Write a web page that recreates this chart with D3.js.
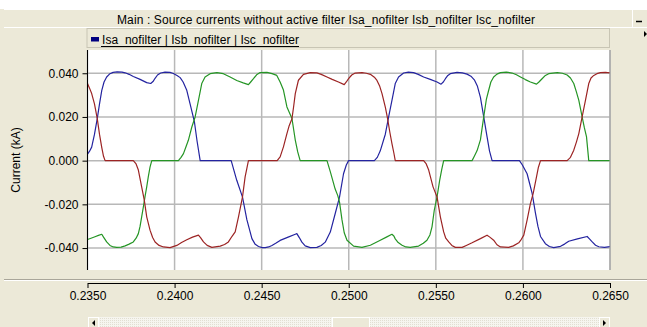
<!DOCTYPE html>
<html>
<head>
<meta charset="utf-8">
<script src="https://cdn.jsdelivr.net/npm/d3@7/dist/d3.min.js"></script>
<style>
  body { margin: 0; background: #fff; overflow: hidden; }
  text { font-family: "Liberation Sans", Arial, sans-serif; font-size: 12px; fill: #000; }
</style>
</head>
<body>
<div id="chart"></div>
<script>
// values: [time (s), current (kA)]
const isa = [
  [0.23500, 0.0030], [0.23511, 0.0042], [0.23524, 0.0062], [0.23540, 0.0120], [0.23556, 0.0192],
  [0.23569, 0.0260], [0.23582, 0.0322], [0.23595, 0.0360], [0.23610, 0.0383], [0.23629, 0.0398],
  [0.23647, 0.0404], [0.23670, 0.0406], [0.23698, 0.0405], [0.23716, 0.0402], [0.23739, 0.0395],
  [0.23763, 0.0385], [0.23802, 0.0372], [0.23840, 0.0357], [0.23863, 0.0353], [0.23876, 0.0362],
  [0.23888, 0.0377], [0.23902, 0.0392], [0.23920, 0.0401], [0.23945, 0.0405], [0.23974, 0.0404],
  [0.23993, 0.0399], [0.24014, 0.0390], [0.24032, 0.0380], [0.24049, 0.0360], [0.24070, 0.0322],
  [0.24089, 0.0260], [0.24114, 0.0177], [0.24129, 0.0090], [0.24147, 0.0000], [0.24325, 0.0000],
  [0.24357, -0.0090], [0.24390, -0.0167], [0.24415, -0.0270], [0.24444, -0.0357], [0.24463, -0.0383],
  [0.24482, -0.0393], [0.24503, -0.0398], [0.24520, -0.0398], [0.24540, -0.0395], [0.24559, -0.0388],
  [0.24583, -0.0377], [0.24606, -0.0365], [0.24652, -0.0350], [0.24693, -0.0337], [0.24702, -0.0334],
  [0.24716, -0.0352], [0.24731, -0.0373], [0.24750, -0.0390], [0.24779, -0.0398], [0.24817, -0.0397],
  [0.24842, -0.0388], [0.24865, -0.0373], [0.24894, -0.0327], [0.24922, -0.0243], [0.24947, -0.0167],
  [0.24970, -0.0060], [0.24986, -0.0020], [0.24999, 0.0000], [0.25147, 0.0000], [0.25164, 0.0015],
  [0.25181, 0.0045], [0.25210, 0.0121], [0.25229, 0.0200], [0.25248, 0.0276], [0.25267, 0.0353],
  [0.25286, 0.0383], [0.25315, 0.0401], [0.25342, 0.0405], [0.25372, 0.0403], [0.25399, 0.0395],
  [0.25430, 0.0383], [0.25468, 0.0372], [0.25507, 0.0360], [0.25530, 0.0350], [0.25543, 0.0360],
  [0.25555, 0.0375], [0.25569, 0.0390], [0.25583, 0.0398], [0.25622, 0.0404], [0.25652, 0.0402],
  [0.25679, 0.0396], [0.25704, 0.0385], [0.25721, 0.0370], [0.25739, 0.0340], [0.25756, 0.0290],
  [0.25775, 0.0200], [0.25794, 0.0110], [0.25808, 0.0045], [0.25823, 0.0000], [0.25980, 0.0000],
  [0.25997, -0.0020], [0.26024, -0.0060], [0.26037, -0.0100], [0.26053, -0.0150], [0.26072, -0.0240],
  [0.26086, -0.0300], [0.26101, -0.0347], [0.26129, -0.0380], [0.26152, -0.0393], [0.26177, -0.0398],
  [0.26216, -0.0392], [0.26239, -0.0382], [0.26263, -0.0369], [0.26313, -0.0358], [0.26369, -0.0347],
  [0.26382, -0.0358], [0.26398, -0.0372], [0.26417, -0.0387], [0.26436, -0.0394], [0.26468, -0.0397],
  [0.26500, -0.0393]
];

const isb = [
  [0.23500, -0.0361], [0.23520, -0.0355], [0.23543, -0.0348], [0.23563, -0.0342], [0.23582, -0.0337],
  [0.23592, -0.0350], [0.23610, -0.0372], [0.23629, -0.0388], [0.23648, -0.0395], [0.23668, -0.0397],
  [0.23693, -0.0396], [0.23716, -0.0390], [0.23739, -0.0382], [0.23763, -0.0372], [0.23779, -0.0355],
  [0.23792, -0.0334], [0.23802, -0.0300], [0.23811, -0.0257], [0.23821, -0.0210], [0.23830, -0.0166],
  [0.23840, -0.0120], [0.23849, -0.0074], [0.23859, -0.0030], [0.23869, 0.0000], [0.24022, 0.0000],
  [0.24037, 0.0015], [0.24051, 0.0032], [0.24066, 0.0065], [0.24079, 0.0093], [0.24099, 0.0154],
  [0.24118, 0.0200], [0.24137, 0.0276], [0.24156, 0.0353], [0.24175, 0.0383], [0.24204, 0.0398],
  [0.24243, 0.0403], [0.24280, 0.0398], [0.24319, 0.0383], [0.24357, 0.0367], [0.24394, 0.0356],
  [0.24424, 0.0348], [0.24437, 0.0360], [0.24453, 0.0375], [0.24471, 0.0393], [0.24491, 0.0403],
  [0.24530, 0.0404], [0.24560, 0.0398], [0.24587, 0.0390], [0.24606, 0.0360], [0.24625, 0.0323],
  [0.24645, 0.0246], [0.24674, 0.0193], [0.24693, 0.0094], [0.24707, 0.0040], [0.24721, 0.0000],
  [0.24875, 0.0000], [0.24894, -0.0050], [0.24908, -0.0090], [0.24922, -0.0130], [0.24937, -0.0160],
  [0.24947, -0.0190], [0.24961, -0.0270], [0.24974, -0.0330], [0.24990, -0.0364], [0.25028, -0.0391],
  [0.25076, -0.0397], [0.25124, -0.0387], [0.25181, -0.0364], [0.25216, -0.0350], [0.25248, -0.0337],
  [0.25259, -0.0345], [0.25267, -0.0358], [0.25284, -0.0375], [0.25306, -0.0387], [0.25328, -0.0395],
  [0.25353, -0.0397], [0.25401, -0.0391], [0.25428, -0.0378], [0.25449, -0.0364], [0.25466, -0.0340],
  [0.25478, -0.0303], [0.25491, -0.0227], [0.25507, -0.0166], [0.25522, -0.0090], [0.25534, -0.0040],
  [0.25545, 0.0000], [0.25708, 0.0000], [0.25721, 0.0020], [0.25737, 0.0046], [0.25756, 0.0095],
  [0.25775, 0.0200], [0.25790, 0.0280], [0.25803, 0.0321], [0.25816, 0.0360], [0.25832, 0.0383],
  [0.25851, 0.0396], [0.25871, 0.0403], [0.25905, 0.0405], [0.25938, 0.0401], [0.25963, 0.0393],
  [0.25986, 0.0383], [0.26014, 0.0371], [0.26043, 0.0360], [0.26078, 0.0350], [0.26092, 0.0360],
  [0.26110, 0.0375], [0.26129, 0.0390], [0.26148, 0.0398], [0.26197, 0.0403], [0.26227, 0.0400],
  [0.26254, 0.0392], [0.26273, 0.0378], [0.26292, 0.0353], [0.26307, 0.0315], [0.26321, 0.0276],
  [0.26340, 0.0200], [0.26353, 0.0150], [0.26365, 0.0110], [0.26378, 0.0000], [0.26500, 0.0000]
];

const isc = [
  [0.23500, 0.0353], [0.23511, 0.0333], [0.23524, 0.0307], [0.23540, 0.0260], [0.23556, 0.0192],
  [0.23569, 0.0120], [0.23582, 0.0060], [0.23592, 0.0020], [0.23601, 0.0000], [0.23763, 0.0000],
  [0.23779, -0.0015], [0.23792, -0.0043], [0.23811, -0.0120], [0.23826, -0.0181], [0.23840, -0.0257],
  [0.23859, -0.0318], [0.23874, -0.0352], [0.23888, -0.0372], [0.23911, -0.0388], [0.23936, -0.0395],
  [0.23974, -0.0398], [0.24013, -0.0388], [0.24040, -0.0375], [0.24070, -0.0362], [0.24103, -0.0350],
  [0.24137, -0.0341], [0.24149, -0.0352], [0.24166, -0.0372], [0.24187, -0.0388], [0.24214, -0.0397],
  [0.24262, -0.0391], [0.24287, -0.0384], [0.24309, -0.0372], [0.24331, -0.0345], [0.24348, -0.0326],
  [0.24367, -0.0257], [0.24390, -0.0166], [0.24405, -0.0074], [0.24415, -0.0035], [0.24424, 0.0000],
  [0.24589, 0.0000], [0.24606, 0.0017], [0.24625, 0.0063], [0.24645, 0.0124], [0.24658, 0.0160],
  [0.24674, 0.0192], [0.24684, 0.0250], [0.24693, 0.0307], [0.24711, 0.0368], [0.24740, 0.0395],
  [0.24779, 0.0403], [0.24817, 0.0402], [0.24842, 0.0395], [0.24875, 0.0383], [0.24905, 0.0372],
  [0.24941, 0.0360], [0.24974, 0.0348], [0.24986, 0.0360], [0.24999, 0.0375], [0.25017, 0.0392],
  [0.25037, 0.0401], [0.25076, 0.0403], [0.25101, 0.0400], [0.25124, 0.0395], [0.25147, 0.0382],
  [0.25162, 0.0367], [0.25178, 0.0340], [0.25191, 0.0307], [0.25210, 0.0245], [0.25223, 0.0192],
  [0.25236, 0.0130], [0.25248, 0.0078], [0.25259, 0.0035], [0.25267, 0.0000], [0.25430, 0.0000],
  [0.25445, -0.0015], [0.25459, -0.0043], [0.25484, -0.0120], [0.25507, -0.0166], [0.25526, -0.0257],
  [0.25545, -0.0326], [0.25557, -0.0355], [0.25574, -0.0372], [0.25592, -0.0388], [0.25612, -0.0397],
  [0.25651, -0.0397], [0.25675, -0.0388], [0.25708, -0.0376], [0.25756, -0.0357], [0.25794, -0.0341],
  [0.25810, -0.0350], [0.25832, -0.0364], [0.25851, -0.0385], [0.25871, -0.0395], [0.25918, -0.0397],
  [0.25945, -0.0390], [0.25976, -0.0376], [0.25991, -0.0360], [0.26005, -0.0341], [0.26024, -0.0272],
  [0.26043, -0.0197], [0.26059, -0.0150], [0.26078, -0.0074], [0.26089, -0.0030], [0.26101, 0.0000],
  [0.26254, 0.0000], [0.26273, 0.0015], [0.26292, 0.0048], [0.26307, 0.0085], [0.26321, 0.0124],
  [0.26340, 0.0200], [0.26359, 0.0276], [0.26378, 0.0353], [0.26391, 0.0378], [0.26407, 0.0390],
  [0.26425, 0.0398], [0.26445, 0.0403], [0.26474, 0.0404], [0.26500, 0.0402]
];

const seriesNames = ['Isa_nofilter', 'Isb_nofilter', 'Isc_nofilter'];
const seriesColors = ['#2424a0', '#259525', '#9c2424'];
const xTicks = [0.2350, 0.2400, 0.2450, 0.2500, 0.2550, 0.2600, 0.2650];
const yTicks = [-0.040, -0.020, 0.000, 0.020, 0.040];
const titleText = 'Main : Source currents without active filter Isa_nofilter Isb_nofilter Isc_nofilter';
const yTitle = 'Current (kA)';

const width = 647;
const height = 327;
const plot = { left: 87.5, right: 610, top: 50, bottom: 270 };
const beige = '#ece9d8';

const svg = d3.select('#chart')
  .append('svg')
  .attr('width', width)
  .attr('height', height);

// window background
svg.append('rect').attr('width', width).attr('height', height).attr('fill', beige);
svg.append('rect').attr('width', width).attr('height', 9).attr('fill', '#fff');

// title bar
svg.append('line')
  .attr('x1', 4).attr('x2', 632).attr('y1', 27.5).attr('y2', 27.5)
  .attr('stroke', '#fff');
svg.append('line')
  .attr('x1', 4).attr('x2', 632).attr('y1', 9.5).attr('y2', 9.5)
  .attr('stroke', '#fff');
svg.append('text')
  .attr('x', 117).attr('y', 24)
  .attr('textLength', 418)
  .attr('lengthAdjust', 'spacing')
  .text(titleText);

// minimize button
svg.append('rect')
  .attr('x', 632.5).attr('y', 9.5).attr('width', 15).attr('height', 18)
  .attr('fill', beige).attr('stroke', '#fff');
svg.append('line')
  .attr('x1', 636).attr('x2', 642).attr('y1', 21.5).attr('y2', 21.5)
  .attr('stroke', '#000').attr('stroke-width', 1.5);

// small arrow at right
svg.append('path')
  .attr('d', 'M644,31 L647,34 L644,37 Z')
  .attr('fill', '#000');

// legend bar
svg.append('rect')
  .attr('x', plot.left - 0.5).attr('y', 28.5).attr('width', plot.right - plot.left).attr('height', 19)
  .attr('fill', beige).attr('stroke', '#c8c5b4');
svg.append('rect')
  .attr('x', 91).attr('y', 37).attr('width', 8).attr('height', 4.5)
  .attr('fill', '#000080');
const legendText = svg.append('text')
  .attr('x', 102).attr('y', 43.5)
  .attr('textLength', 197)
  .attr('lengthAdjust', 'spacing')
  .text(seriesNames.join(' | '));
svg.append('line')
  .attr('x1', 101).attr('x2', 299).attr('y1', 46.5).attr('y2', 46.5)
  .attr('stroke', '#000');

// plot background
svg.append('rect')
  .attr('x', plot.left).attr('y', plot.top)
  .attr('width', plot.right - plot.left).attr('height', plot.bottom - plot.top)
  .attr('fill', '#fff');

const xScale = d3.scaleLinear()
  .domain([0.235, 0.265])
  .range([plot.left, plot.right]);

const yScale = d3.scaleLinear()
  .domain([-0.05, 0.05])
  .range([269.9, 51.4]);

// grid
svg.append('g')
  .selectAll('line')
  .data(xTicks)
  .join('line')
  .attr('x1', d => xScale(d)).attr('x2', d => xScale(d))
  .attr('y1', plot.top).attr('y2', plot.bottom)
  .attr('stroke', '#b8b8b8').attr('stroke-width', 1.5);

svg.append('g')
  .selectAll('line')
  .data(yTicks)
  .join('line')
  .attr('x1', plot.left).attr('x2', plot.right)
  .attr('y1', d => yScale(d)).attr('y2', d => yScale(d))
  .attr('stroke', '#b8b8b8').attr('stroke-width', 1.5);

// curves
svg.append('clipPath')
  .attr('id', 'plot-clip')
  .append('rect')
  .attr('x', plot.left).attr('y', plot.top)
  .attr('width', plot.right - plot.left).attr('height', plot.bottom - plot.top);

const line = d3.line()
  .x(d => xScale(d[0]))
  .y(d => yScale(d[1]));

svg.append('g')
  .attr('clip-path', 'url(#plot-clip)')
  .selectAll('path')
  .data([isa, isb, isc])
  .join('path')
  .attr('d', d => line(d))
  .attr('fill', 'none')
  .attr('stroke', (d, i) => seriesColors[i])
  .attr('stroke-width', 1.2)
  .attr('stroke-linejoin', 'round');

// y axis
svg.append('g')
  .attr('transform', 'translate(' + plot.left + ',0)')
  .call(d3.axisLeft(yScale).tickValues(yTicks).tickSize(5).tickSizeOuter(0).tickPadding(4)
    .tickFormat(d => d.toFixed(3)))
  .call(g => g.select('.domain').remove())
  .call(g => g.selectAll('.tick text').style('font-size', '12px').attr('font-family', null));

svg.append('line')
  .attr('x1', plot.left).attr('x2', plot.left)
  .attr('y1', plot.top).attr('y2', plot.bottom)
  .attr('stroke', '#000');

svg.append('line')
  .attr('x1', plot.right).attr('x2', plot.right)
  .attr('y1', plot.top).attr('y2', plot.bottom)
  .attr('stroke', '#a0a0a0');

svg.append('text')
  .attr('transform', 'translate(20,' + ((plot.top + plot.bottom) / 2) + ') rotate(-90)')
  .attr('text-anchor', 'middle')
  .text(yTitle);

// separator between plot and x axis
svg.append('line')
  .attr('x1', 4).attr('x2', width).attr('y1', 279.5).attr('y2', 279.5)
  .attr('stroke', '#a9a69a');
svg.append('line')
  .attr('x1', 4).attr('x2', width).attr('y1', 280.5).attr('y2', 280.5)
  .attr('stroke', '#fff');

// x axis
svg.append('g')
  .attr('transform', 'translate(0,283)')
  .call(d3.axisBottom(xScale).tickValues(xTicks).tickSize(5).tickSizeOuter(0).tickPadding(3)
    .tickFormat(d => d.toFixed(4)))
  .call(g => g.selectAll('.tick text').style('font-size', '12px').attr('font-family', null));

// scrollbar
svg.append('defs').append('pattern')
  .attr('id', 'dots')
  .attr('width', 2).attr('height', 2)
  .attr('patternUnits', 'userSpaceOnUse')
  .call(p => p.append('rect').attr('width', 2).attr('height', 2).attr('fill', '#f6f5ef'))
  .call(p => p.append('rect').attr('width', 1).attr('height', 1).attr('fill', '#e2dfd2'));

svg.append('rect')
  .attr('x', 88).attr('y', 317).attr('width', 522).attr('height', 12)
  .attr('fill', 'url(#dots)');
svg.append('rect')
  .attr('x', 88.5).attr('y', 317.5).attr('width', 10).attr('height', 12)
  .attr('fill', beige).attr('stroke', '#fff');
svg.append('rect')
  .attr('x', 599.5).attr('y', 317.5).attr('width', 10).attr('height', 12)
  .attr('fill', beige).attr('stroke', '#fff');
svg.append('rect')
  .attr('x', 332.5).attr('y', 317.5).attr('width', 37).attr('height', 12)
  .attr('fill', beige).attr('stroke', '#fff');
svg.append('path').attr('d', 'M95,320 L92,323 L95,326 Z').attr('fill', '#000');
svg.append('path').attr('d', 'M603,320 L606,323 L603,326 Z').attr('fill', '#000');
</script>
</body>
</html>
